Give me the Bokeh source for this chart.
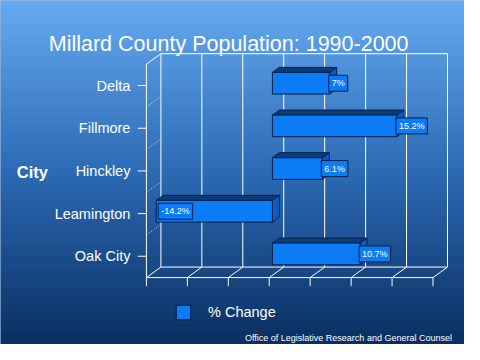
from bokeh.plotting import figure
from bokeh.models import Range1d, ColumnDataSource, Legend, LegendItem
from bokeh.core.properties import value
from bokeh.embed import file_html
from bokeh.resources import INLINE

# ---------------- data ----------------
cities = ["Delta", "Fillmore", "Hinckley", "Leamington", "Oak City"]
pct_change = [7.0, 15.2, 6.1, -14.2, 10.7]
pct_labels = ["7%", "15.2%", "6.1%", "-14.2%", "10.7%"]
x_ticks = [-15, -10, -5, 0, 5, 10, 15, 20]
title_text = "Millard County Population: 1990-2000"
axis_title = "City"
legend_label = "% Change"
footer_text = "Office of Legislative Research and General Counsel"

# ---------------- layout (reference 480x360 pixel space) ----------------
W, H = 464, 344
REF_W, REF_H = 480.0, 360.0
SX, SY = W / REF_W, H / REF_H
X0, KX = 278.0, 8.47      # x of 0 % on the front plane, px per %
Y0, KY = 89.0, 44.66      # y of first category on the front plane, px per category
DEPTH_X, DEPTH_Y = 15.0, 11.0
DXd, DYd = DEPTH_X / KX, DEPTH_Y / KY
DF, DB, HALF = 0.22, 0.70, 0.254

def px_x(X):
    return (X - X0) / KX

def px_y(Y):
    return (Y - Y0) / KY

def proj(x, y, d):
    return x + d * DXd, y - d * DYd

x_start, x_end = px_x(0), px_x(REF_W)
y_top, y_bot = px_y(0), px_y(REF_H)

FONT = value("Liberation Sans")
FRONT = "#0b7cf5"
TOP = "#083d7c"
SIDE = "#0a5cc2"
EDGE = "#061f48"

p = figure(width=W, height=H, x_range=Range1d(x_start, x_end),
           y_range=Range1d(y_bot, y_top), output_backend="svg",
           toolbar_location=None, min_border=0,
           x_axis_location=None, y_axis_location=None)
p.grid.visible = False
p.outline_line_color = None
p.background_fill_color = "#2c6cb4"
p.border_fill_color = "#2c6cb4"

# ---------------- gradient background ----------------
stops = [(0.0, (102, 171, 241)), (0.5, (44, 106, 180)), (1.0, (10, 46, 96))]

def grad(t):
    for (t0, c0), (t1, c1) in zip(stops[:-1], stops[1:]):
        if t <= t1:
            f = (t - t0) / (t1 - t0)
            return "#%02x%02x%02x" % tuple(int(round(a + (b - a) * f)) for a, b in zip(c0, c1))
    return "#%02x%02x%02x" % stops[-1][1]

tops, bots, cols = [], [], []
for r in range(0, int(REF_H), 2):
    tops.append(px_y(r))
    bots.append(px_y(r + 2.6))
    cols.append(grad((r + 1) / REF_H))
p.quad(left=x_start, right=x_end, top=tops, bottom=bots, fill_color=cols, line_color=None)

# ---------------- 3D frame ----------------
ncat = len(cities)
ylo, yhi = -0.5, ncat - 0.5
xmin, xmax = x_ticks[0], x_ticks[-1]
seg = dict(x0=[], y0=[], x1=[], y1=[])

def add(a, b):
    seg["x0"].append(a[0]); seg["y0"].append(a[1])
    seg["x1"].append(b[0]); seg["y1"].append(b[1])

tick_len = 9.0 / KY
for t in x_ticks:
    add(proj(t, ylo, 1), proj(t, yhi, 1))        # back wall gridline
    add(proj(t, yhi, 0), proj(t, yhi, 1))        # floor diagonal
    add(proj(t, yhi, 0), proj(t, yhi + tick_len, 0))  # tick below floor
add(proj(xmin, ylo, 1), proj(xmax, ylo, 1))      # back wall top
add(proj(xmin, yhi, 1), proj(xmax, yhi, 1))      # back wall bottom
add(proj(xmin, yhi, 0), proj(xmax, yhi, 0))      # floor front edge
add(proj(xmin, ylo, 0), proj(xmin, yhi, 0))      # left front edge
add(proj(xmin, ylo, 0), proj(xmin, ylo, 1))      # top-left diagonal
for i in range(ncat):
    add((xmin, i), (xmin - 9.0 / KX, i))         # category ticks
p.segment(x0="x0", y0="y0", x1="x1", y1="y1", source=ColumnDataSource(seg),
          line_color="white", line_width=1)

dots = dict(x0=[], y0=[], x1=[], y1=[])
for i in range(ncat - 1):
    a, b = proj(xmin, i + 0.5, 0), proj(xmin, i + 0.5, 1)
    dots["x0"].append(a[0]); dots["y0"].append(a[1])
    dots["x1"].append(b[0]); dots["y1"].append(b[1])
p.segment(x0="x0", y0="y0", x1="x1", y1="y1", source=ColumnDataSource(dots),
          line_color="white", line_width=1, line_dash="1 2", line_alpha=0.8)

# ---------------- bars ----------------
top_xs, top_ys, side_xs, side_ys, fr_xs, fr_ys = [], [], [], [], [], []
for i, v in enumerate(pct_change):
    x0, x1 = min(0, v), max(0, v)
    yt, yb = i - HALF, i + HALF
    pts = [proj(x0, yt, DF), proj(x1, yt, DF), proj(x1, yt, DB), proj(x0, yt, DB)]
    top_xs.append([q[0] for q in pts]); top_ys.append([q[1] for q in pts])
    pts = [proj(x1, yt, DF), proj(x1, yt, DB), proj(x1, yb, DB), proj(x1, yb, DF)]
    side_xs.append([q[0] for q in pts]); side_ys.append([q[1] for q in pts])
    pts = [proj(x0, yt, DF), proj(x1, yt, DF), proj(x1, yb, DF), proj(x0, yb, DF)]
    fr_xs.append([q[0] for q in pts]); fr_ys.append([q[1] for q in pts])

p.patches(top_xs, top_ys, fill_color=TOP, line_color=EDGE, line_width=1)
p.patches(side_xs, side_ys, fill_color=SIDE, line_color=EDGE, line_width=1)
front_r = p.patches(fr_xs, fr_ys, fill_color=FRONT, line_color=EDGE, line_width=1)

# ---------------- data labels ----------------
lx, ly, loff = [], [], []
for i, v in enumerate(pct_change):
    fx, fy = proj(v, i, DF)
    lx.append(fx); ly.append(fy)
    loff.append(-1 if v >= 0 else 2)
p.text(x=lx, y=ly, text=pct_labels, x_offset=loff, text_align="left",
       text_baseline="middle", text_font=FONT, text_font_size="9px",
       text_color="white", background_fill_color=FRONT,
       border_line_color=EDGE, border_line_width=1, padding=3)

# ---------------- texts ----------------
p.text(x=[xmin] * ncat, y=list(range(ncat)), text=cities, x_offset=-16,
       text_align="right", text_baseline="middle", text_font=FONT,
       text_font_size="14.5px", text_color="white")

p.text(x=[px_x(33)], y=[px_y(179)], text=[axis_title], text_align="center",
       text_baseline="middle", text_font=FONT, text_font_size="16.5px",
       text_font_style="bold", text_color="white")

p.text(x=[px_x(236)], y=[px_y(45)], text=[title_text], text_align="center",
       text_baseline="alphabetic", text_font=FONT, text_font_size="21.5px",
       text_color="white")

p.text(x=[px_x(467)], y=[px_y(353)], text=[footer_text], text_align="right",
       text_baseline="alphabetic", text_font=FONT, text_font_size="9px",
       text_color="white")

legend = Legend(items=[LegendItem(label=legend_label, renderers=[front_r])],
                location=(int(round(180 * SX)), int(round((REF_H - 336) * SY))),
                orientation="horizontal",
                background_fill_alpha=0, border_line_color=None,
                label_text_color="white", label_text_font_size="14.5px",
                label_text_font="Liberation Sans",
                glyph_width=18, glyph_height=18, label_standoff=16,
                padding=0, margin=0)
p.add_layout(legend)

open("out.html", "w").write(file_html(p, INLINE))
